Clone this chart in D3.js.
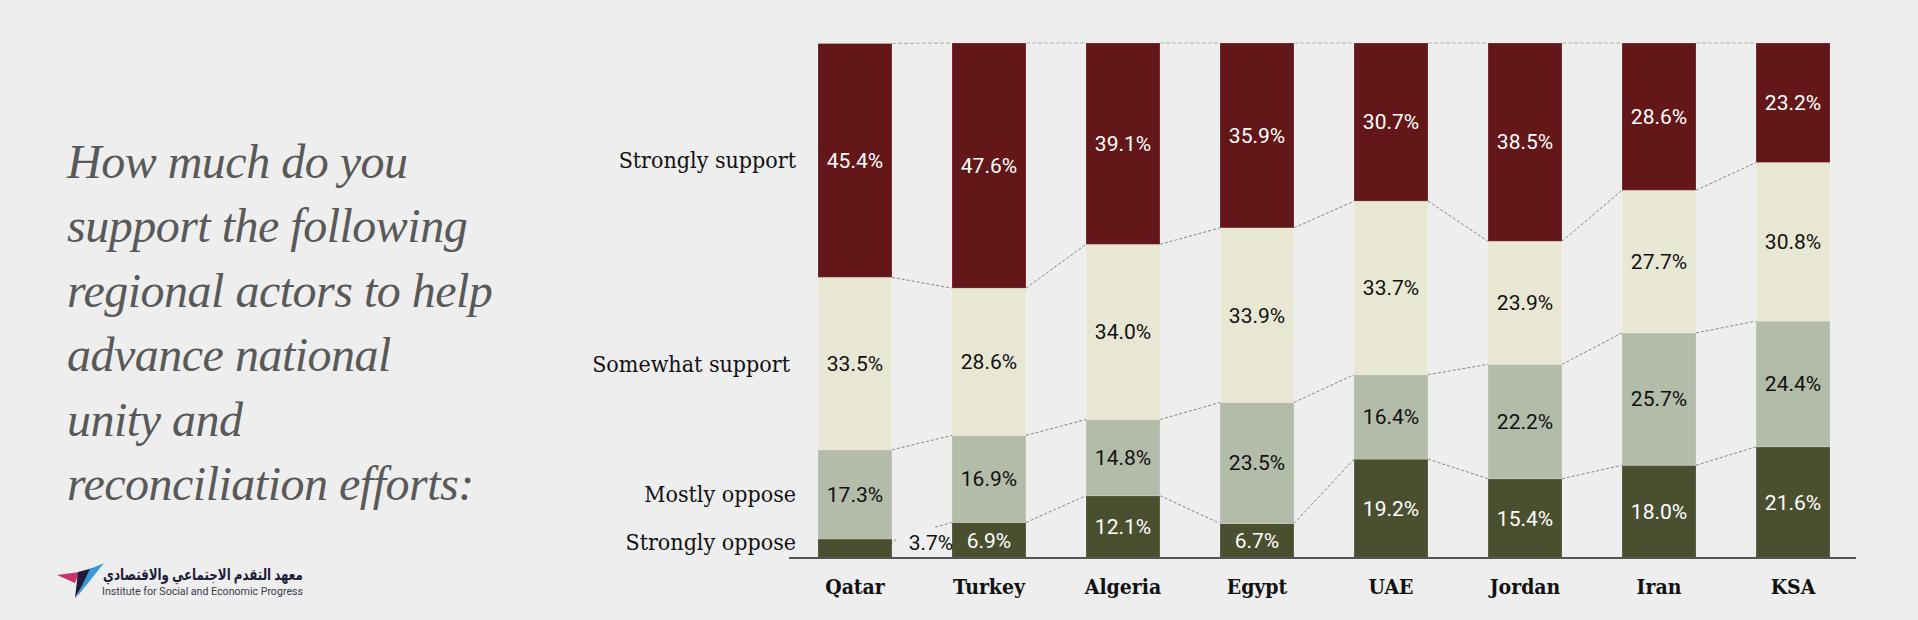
<!DOCTYPE html>
<html>
<head>
<meta charset="utf-8">
<script src="https://cdn.jsdelivr.net/npm/d3@7"></script>
<style>
    html, body { margin: 0; padding: 0; background: #eeeeee; }
    svg { display: block; }
</style>
</head>
<body>
<div id="chart"></div>
<script>
(function () {

    const countries = ["Qatar", "Turkey", "Algeria", "Egypt", "UAE", "Jordan", "Iran", "KSA"];
    const responses = ["Strongly oppose", "Mostly oppose", "Somewhat support", "Strongly support"];
    const stronglyOppose = [3.7, 6.9, 12.1, 6.7, 19.2, 15.4, 18.0, 21.6];
    const mostlyOppose = [17.3, 16.9, 14.8, 23.5, 16.4, 22.2, 25.7, 24.4];
    const somewhatSupport = [33.5, 28.6, 34.0, 33.9, 33.7, 23.9, 27.7, 30.8];
    const stronglySupport = [45.4, 47.6, 39.1, 35.9, 30.7, 38.5, 28.6, 23.2];
    const titleLines = ["How much do you", "support the following", "regional actors to help",
        "advance national", "unity and", "reconciliation efforts:"];

    const colours = ["#4a4f30", "#b3bca9", "#e8e7d4", "#631718"];
    const labelColours = ["#ffffff", "#111111", "#111111", "#ffffff"];

    let width = 1918, height = 620, svg, xScale, yScale, series, table;

    const series_values = [stronglyOppose, mostlyOppose, somewhatSupport, stronglySupport];
    table = countries.map((c, i) => {
        const row = { country: c };
        responses.forEach((r, k) => row[r] = series_values[k][i]);
        return row;
    });
    series = d3.stack().keys(responses)(table);

    svg = d3.select("#chart").append("svg")
        .attr("width", width)
        .attr("height", height);

    svg.append("rect").attr("width", width).attr("height", height).attr("fill", "#eeeeee");

    xScale = d3.scaleBand().domain(countries).range([818, 1830]).paddingInner(0.448).paddingOuter(0);
    yScale = d3.scaleLinear().domain([0, 100]).range([558, 43]);

    // title
    svg.append("text")
        .attr("x", 67)
        .attr("font-family", "'Liberation Serif', serif")
        .attr("font-style", "italic")
        .attr("font-size", 48)
        .attr("letter-spacing", -0.5)
        .attr("fill", "#595959")
        .selectAll("tspan")
        .data(titleLines)
        .enter()
        .append("tspan")
        .attr("x", 67)
        .attr("y", (d, i) => 178 + i * 64.4)
        .text(d => d);

    // connectors between bars
    const conn = svg.append("g").attr("fill", "none");
    const bw = xScale.bandwidth();
    for (let i = 0; i < countries.length - 1; i++) {
        series.forEach((s, k) => {
            const x1 = xScale(countries[i]) + bw, x2 = xScale(countries[i + 1]);
            const y1 = yScale(s[i][1]), y2 = yScale(s[i + 1][1]);
            const top = k === series.length - 1;
            // leave room for an outside label
            const small = yScale(series[k][i][0]) - y1 < 24 && !top;
            const t0 = small ? 0.72 : 0;
            conn.append("line")
                .attr("x1", x1 + (x2 - x1) * t0)
                .attr("y1", y1 + (y2 - y1) * t0)
                .attr("x2", x2)
                .attr("y2", y2)
                .attr("stroke", top ? "#b5b5b5" : "#6a6a6a")
                .attr("stroke-width", top ? 1.2 : 0.8)
                .attr("stroke-dasharray", top ? "4,2" : "3,2");
        });
    }

    // bars
    const layers = svg.append("g")
        .selectAll("g")
        .data(series)
        .enter()
        .append("g")
        .attr("fill", (d, k) => colours[k]);

    layers.selectAll("rect")
        .data(d => d)
        .enter()
        .append("rect")
        .attr("x", d => xScale(d.data.country))
        .attr("y", d => yScale(d[1]))
        .attr("width", bw)
        .attr("height", d => yScale(d[0]) - yScale(d[1]))
        .attr("stroke", "#ffffff")
        .attr("stroke-opacity", 0.18)
        .attr("stroke-width", 1);

    // value labels
    series.forEach((s, k) => {
        s.forEach((d, i) => {
            const h = yScale(d[0]) - yScale(d[1]);
            let mid = (yScale(d[0]) + yScale(d[1])) / 2;
            const cx = xScale(d.data.country) + bw / 2;
            let x = cx, fill = labelColours[k];
            if (h < 24) {
                x = xScale(d.data.country) + bw + 39;
                fill = "#111111";
                svg.append("line")
                    .attr("x1", xScale(d.data.country) + bw - 5)
                    .attr("y1", mid)
                    .attr("x2", xScale(d.data.country) + bw + 5)
                    .attr("y2", mid - 10)
                    .attr("stroke", "#555")
                    .attr("stroke-width", 0.8)
                    .attr("stroke-dasharray", "3,2");
                mid -= 6;
            }
            svg.append("text")
                .attr("x", x)
                .attr("y", mid)
                .attr("dy", "0.35em")
                .attr("text-anchor", "middle")
                .attr("font-family", "Roboto, 'Noto Sans', sans-serif")
                .attr("font-size", 21)
                .attr("fill", fill)
                .text(d3.format(".1f")(d.data[responses[k]]) + "%");
        });
    });

    // response labels, lined up with the first bar
    svg.append("g")
        .selectAll("text")
        .data(series)
        .enter()
        .append("text")
        .attr("x", (d, k) => k === 2 ? 790 : 796)
        .attr("y", d => Math.min((yScale(d[0][0]) + yScale(d[0][1])) / 2, 542))
        .attr("dy", "0.35em")
        .attr("text-anchor", "end")
        .attr("font-family", "'DejaVu Serif', serif")
        .attr("font-stretch", "condensed")
        .attr("font-size", 23)
        .attr("fill", "#111")
        .text(d => d.key);

    // axis
    const xAxis = d3.axisBottom(xScale).tickSize(0).tickPadding(21);
    const ax = svg.append("g")
        .attr("transform", `translate(0,${yScale(0)})`)
        .call(xAxis);
    ax.select(".domain").remove();
    ax.append("line")
        .attr("x1", 789).attr("x2", 1856)
        .attr("stroke", "#555").attr("stroke-width", 2);
    ax.selectAll(".tick text")
        .attr("font-family", "'DejaVu Serif', serif")
        .attr("font-stretch", "condensed")
        .attr("font-weight", "bold")
        .attr("font-size", 21)
        .attr("fill", "#111");

    // logo
    const logo = svg.append("g");
    logo.append("polygon").attr("points", "57,575 80,572 75,583").attr("fill", "#c8356b");
    logo.append("polygon").attr("points", "78,572 93,568 75,598").attr("fill", "#1d1d3a");
    logo.append("polygon").attr("points", "90,569 104,563 76,598").attr("fill", "#3a9ad6");
    const arabic = logo.append("text")
        .attr("text-anchor", "middle")
        .attr("font-family", "'Noto Sans', 'DejaVu Sans', sans-serif")
        .attr("font-weight", "bold")
        .attr("font-size", 16)
        .attr("fill", "#1d1d3a")
        .text("معهد التقدم الاجتماعي والاقتصادي");
    const arLen = arabic.node().getComputedTextLength() || 200;
    arabic.attr("transform", `translate(203,580) scale(${200 / arLen},1)`);
    logo.append("text")
        .attr("x", 102).attr("y", 595)
        .attr("font-family", "Roboto, sans-serif")
        .attr("font-size", 11.5)
        .attr("textLength", 201)
        .attr("lengthAdjust", "spacingAndGlyphs")
        .attr("fill", "#3a3a4a")
        .text("Institute for Social and Economic Progress");

})()
</script>
</body>
</html>
